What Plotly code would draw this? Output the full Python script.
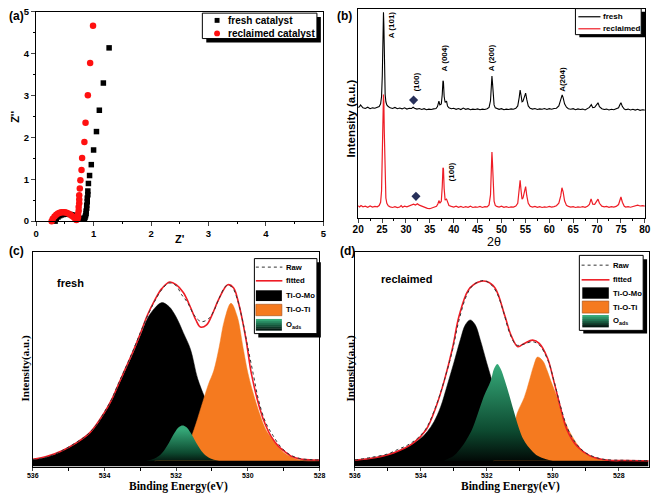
import plotly.graph_objects as go

W, H = 658, 499
def px(x): return x / W
def py(y): return 1 - y / H

# ---------------- (a) Nyquist data ----------------
fresh_zre = [0.33,0.35,0.38,0.41,0.44,0.47,0.50,0.53,0.56,0.59,0.62,0.65,0.68,0.71,0.74,0.77,0.80,0.82,0.84,0.85,
             0.86,0.87,0.87,0.88,0.88,0.89,0.89,0.90,0.90,0.91,0.93,0.96,1.00,1.05,1.10,1.17,1.27]
fresh_zim = [0.00,0.06,0.10,0.13,0.15,0.16,0.17,0.17,0.17,0.16,0.15,0.14,0.12,0.10,0.08,0.06,0.05,0.05,0.06,0.09,
             0.13,0.18,0.24,0.31,0.38,0.46,0.55,0.63,0.72,0.90,1.09,1.35,1.70,2.14,2.65,3.30,4.14]
recl_zre = [0.27,0.29,0.32,0.35,0.38,0.41,0.44,0.47,0.50,0.53,0.56,0.59,0.62,0.65,0.68,0.70,0.72,0.73,0.73,0.74,
            0.74,0.75,0.75,0.75,0.76,0.77,0.79,0.80,0.84,0.86,0.90,0.94,0.99]
recl_zim = [0.00,0.06,0.11,0.15,0.18,0.20,0.21,0.21,0.21,0.20,0.18,0.16,0.13,0.10,0.06,0.03,0.05,0.10,0.17,0.25,
            0.34,0.43,0.52,0.62,0.78,0.98,1.22,1.51,1.89,2.35,3.01,3.78,4.67]

# ---------------- (b) XRD data (2theta, intensity a.u.) ----------------
xrd_fresh = [(20.0,52.8),(20.3,53.2),(20.5,54.0),(20.7,53.3),(21.0,52.6),(21.5,52.3),(22.0,52.9),(22.5,52.2),
    (23.0,52.6),(23.5,52.4),(24.0,52.7),(24.4,53.2),(24.7,54.5),(24.9,58),(25.05,68),(25.15,82),(25.25,95),
    (25.3,98.3),(25.38,92),(25.46,78),(25.55,66),(25.65,59),(25.8,55.5),(26.0,54),(26.3,53.2),(26.7,52.6),
    (27.2,52.3),(27.7,52.8),(28.2,52.2),(28.7,52.5),(29.2,52.1),(29.7,52.6),(30.2,52.0),(30.7,52.4),(31.2,52.3),
    (31.5,52.9),(31.8,52.4),(32.3,52.0),(32.8,52.3),(33.3,51.8),(33.8,52.2),(34.3,51.7),(34.8,52.0),(35.3,51.8),
    (35.8,52.1),(36.3,52.3),(36.6,53.2),(36.9,55.8),(37.1,54.0),(37.4,54.5),(37.6,59),(37.75,65.5),(37.85,65.0),
    (38.0,58),(38.2,55.2),(38.5,55.8),(38.7,53.5),(39.0,52.6),(39.5,52.2),(40.0,52.4),(40.5,51.9),(41.0,52.3),
    (41.5,51.8),(42.0,52.5),(42.5,51.9),(43.0,52.2),(43.5,51.7),(44.0,52.0),(44.5,51.8),(45.0,52.1),(45.5,51.7),
    (46.0,52.0),(46.5,51.8),(47.0,52.2),(47.4,52.8),(47.7,56),(47.9,64),(48.0,67.8),(48.1,65),(48.25,58),
    (48.45,54),(48.7,52.6),(49.0,52.3),(49.5,51.9),(50.0,52.2),(50.5,51.7),(51.0,52.0),(51.5,51.8),(52.0,52.1),
    (52.5,51.9),(53.0,52.4),(53.4,53.5),(53.7,57.5),(53.9,61.1),(54.1,58.5),(54.3,55.5),(54.5,55.8),(54.8,58),
    (55.05,59.6),(55.3,56.5),(55.6,53.5),(56.0,52.4),(56.5,52.0),(57.0,52.3),(57.5,51.8),(58.0,52.1),(58.5,51.9),
    (59.0,52.3),(59.5,51.8),(60.0,52.2),(60.5,51.9),(61.0,52.3),(61.5,52.4),(62.0,53.5),(62.4,56),(62.7,58.8),
    (62.9,57.5),(63.2,54.5),(63.6,52.9),(64.0,52.2),(64.5,51.9),(65.0,52.2),(65.5,51.7),(66.0,52.1),(66.5,51.8),
    (67.0,52.0),(67.5,51.6),(68.0,52.2),(68.4,52.8),(68.8,54.1),(69.1,52.7),(69.5,52.9),(69.9,54.0),(70.2,55.0),
    (70.5,53.2),(71.0,52.2),(71.5,51.8),(72.0,52.0),(72.5,51.6),(73.0,51.9),(73.5,51.7),(74.0,52.0),(74.5,52.6),
    (74.8,54.2),(75.0,55.0),(75.3,53.2),(75.7,52.0),(76.0,51.7),(76.5,52.0),(77.0,51.6),(77.5,51.9),(78.0,51.5),
    (78.5,51.9),(79.0,51.4),(79.5,51.7),(80.0,51.5)]
xrd_recl = [(20.0,5.8),(20.3,5.2),(20.6,5.9),(21.0,5.3),(21.5,5.6),(22.0,5.1),(22.5,5.7),(23.0,5.2),(23.5,5.5),
    (24.0,5.3),(24.4,5.9),(24.7,7.5),(24.9,13),(25.05,28),(25.15,45),(25.25,56),(25.3,59),(25.38,55),(25.46,42),
    (25.55,27),(25.65,16),(25.8,9.5),(26.0,7),(26.3,5.8),(26.7,5.3),(27.2,5.0),(27.7,5.4),(28.2,4.9),(28.7,5.2),
    (29.0,5.9),(29.3,5.1),(29.7,5.6),(30.2,5.3),(30.7,5.8),(31.2,6.0),(31.6,6.6),(32.0,6.2),(32.4,6.8),(32.8,6.1),
    (33.2,5.7),(33.6,5.2),(34.0,4.8),(34.5,4.6),(35.0,4.4),(35.5,4.7),(36.0,5.0),(36.4,5.6),(36.7,6.8),(36.9,8.3),
    (37.1,7.0),(37.4,8.0),(37.6,15),(37.75,24.0),(37.85,23.5),(38.0,14),(38.2,8.5),(38.5,9.0),(38.7,7.2),(39.0,5.9),
    (39.5,5.5),(40.0,5.2),(40.5,5.6),(41.0,5.1),(41.5,5.5),(42.0,5.0),(42.5,5.4),(43.0,5.1),(43.5,5.6),(44.0,5.0),
    (44.5,5.3),(45.0,5.1),(45.5,5.5),(46.0,5.0),(46.5,5.4),(47.0,5.3),(47.4,6.2),(47.7,11),(47.9,25),(48.0,31.5),
    (48.1,27),(48.25,15),(48.45,8),(48.7,6),(49.0,5.5),(49.5,5.2),(50.0,5.6),(50.5,5.1),(51.0,5.4),(51.5,5.0),
    (52.0,5.3),(52.5,5.2),(53.0,5.7),(53.4,7.0),(53.7,13),(53.9,18),(54.1,13),(54.3,9),(54.5,9.5),(54.8,13),
    (55.05,15),(55.3,10.5),(55.6,7),(56.0,5.6),(56.5,5.2),(57.0,5.5),(57.5,5.1),(58.0,5.4),(58.5,5.0),(59.0,5.3),
    (59.5,5.1),(60.0,5.5),(60.5,5.2),(61.0,5.4),(61.5,5.8),(62.0,7.0),(62.4,10.5),(62.65,14.4),(62.9,12.5),
    (63.2,8.2),(63.6,6.0),(64.0,5.5),(64.5,5.2),(65.0,5.4),(65.5,5.0),(66.0,5.3),(66.5,5.1),(67.0,5.4),(67.5,5.1),
    (68.0,5.6),(68.4,6.5),(68.75,9.1),(69.1,6.6),(69.5,6.5),(69.9,8.0),(70.2,9.0),(70.5,7.0),(71.0,5.6),(71.5,5.3),
    (72.0,5.5),(72.5,5.1),(73.0,5.4),(73.5,5.2),(74.0,5.5),(74.5,6.4),(74.8,8.8),(75.0,10.0),(75.3,7.5),(75.7,5.6),
    (76.0,5.2),(76.5,5.4),(77.0,5.1),(77.5,5.5),(78.0,5.8),(78.5,6.1),(79.0,5.7),(79.5,5.9),(80.0,5.6)]
diamond_x = [31.6, 32.1]
diamond_y = [56.3, 10.3]
peak_labels = ["A (101)", "(100)", "A (004)", "A (200)", "A(204)", "(100)"]
peak_label_x = [27.0, 32.2, 38.1, 47.9, 62.8, 39.5]
peak_label_y = [92.3, 64.9, 76.5, 76.5, 66.3, 21.9]

# ---------------- (c) XPS O1s fresh ----------------
c_raw = [(536.0,7.2),(535.7,8.8),(535.4,12.5),(535.1,18),(534.8,24.5),(534.5,32),(534.2,44),(534.0,56),(533.8,69),
    (533.6,86),(533.4,102),(533.2,119),(533.0,137),(532.8,154),(532.6,169),(532.4,181),(532.2,187.7),(532.0,185),
    (531.85,176),(531.68,167.7),(531.5,155),(531.3,148.3),(531.1,151),(530.95,159),(530.8,172),(530.6,185),
    (530.45,184),(530.3,172),(530.15,150),(530.0,122),(529.85,95),(529.7,68),(529.5,45),(529.3,32),(529.1,21),
    (528.9,14),(528.7,10),(528.5,8),(528.2,7),(528.0,6.8)]
c_fit = [(536.0,7.5),(535.6,10.5),(535.2,16),(534.8,24),(534.4,35),(534.0,55.5),(533.8,68.5),(533.6,85),(533.4,101.5),
    (533.2,118),(533.0,136),(532.8,155),(532.6,170),(532.4,182),(532.18,188.7),(532.0,186),(531.8,178),(531.6,163),
    (531.45,150),(531.32,142.7),(531.15,145),(531.0,155),(530.8,172),(530.56,186),(530.4,183),(530.25,166),
    (530.05,130),(529.9,95),(529.67,60),(529.5,42),(529.35,31),(529.15,21),(528.99,16),(528.75,10),(528.53,7.7),
    (528.2,6.8),(528.0,6.6)]
c_timo = [(536.0,7.3),(535.8,8.3),(535.6,10.2),(535.4,12.5),(535.2,15.7),(535.0,19.4),(534.8,23.5),(534.6,28.6),
    (534.4,34.3),(534.2,43.2),(534.0,54.5),(533.8,67.4),(533.6,83.6),(533.4,99.8),(533.2,116),(533.0,133.7),
    (532.8,151.5),(532.6,162),(532.4,167.7),(532.2,163.7),(532.0,153),(531.8,137),(531.6,120),(531.4,90),
    (531.2,70.7),(531.0,54.5),(530.8,40.8),(530.6,30.3),(530.4,22),(530.2,17.3),(530.0,14),(529.8,11.7),
    (529.6,9.9),(529.4,8.6),(529.2,7.6),(529.0,7.0),(528.8,6.6),(528.6,6.4),(528.0,6.2)]
c_titi = [(532.6,6.0),(532.2,8.5),(531.9,13),(531.7,20),(531.5,38),(531.3,61),(531.1,84),(530.95,98),(530.8,122),
    (530.65,150),(530.47,167),(530.3,154),(530.13,121),(530.0,96),(529.85,75),(529.67,54),(529.5,38),(529.31,27.7),
    (529.15,20),(528.99,14.3),(528.8,10),(528.53,6.5),(528.0,6.0)]
c_oads = [(532.84,6.0),(532.6,8.2),(532.4,13.7),(532.2,24.5),(532.04,34.8),(531.92,40.4),(531.82,42),(531.72,40.4),
    (531.6,34.8),(531.44,24.5),(531.24,13.7),(531.04,8.2),(530.8,6.0)]

# ---------------- (d) XPS O1s reclaimed ----------------
d_raw = [(536.0,6.8),(535.5,9.5),(535.0,13),(534.7,17.5),(534.4,22),(534.1,29),(533.84,39),(533.54,62),(533.29,88),
    (533.04,119),(532.84,150),(532.6,176),(532.4,186),(532.1,190.3),(531.9,187),(531.7,178),(531.5,159),(531.3,136),
    (531.1,124.3),(530.9,125),(530.61,127.7),(530.4,124),(530.15,109),(529.95,86),(529.75,60),(529.55,39),
    (529.3,24),(529.0,14),(528.7,9.5),(528.4,7.2),(527.8,6.5),(527.1,6.2)]
d_fit = [(536.0,6.5),(535.4,9),(534.83,14),(534.23,24),(533.84,37.7),(533.54,61),(533.29,87.7),(533.04,121),
    (532.84,154),(532.55,181),(532.25,188.7),(532.0,189.3),(531.75,182.7),(531.45,154),(531.26,134),(531.06,122.7),
    (530.86,126),(530.61,129.3),(530.41,126),(530.16,111),(529.97,87.7),(529.77,61),(529.57,37.7),(529.27,21),
    (528.87,11),(528.38,6.7),(527.8,6.2),(527.1,6.0)]
d_timo = [(536.0,6.8),(535.6,7.8),(535.2,10.5),(534.8,14.5),(534.4,20),(534.0,29),(533.8,36),(533.6,46),(533.4,61),
    (533.2,83),(533.0,106),(532.8,130),(532.65,145),(532.5,150),(532.35,145),(532.2,130),(532.0,106),(531.8,83),
    (531.6,61),(531.4,46),(531.2,36),(531.0,29),(530.6,20),(530.2,14.5),(529.8,10.5),(529.4,7.8),(529.0,6.8),
    (528.0,6.2),(527.1,6.1)]
d_titi = [(531.8,6.0),(531.6,10),(531.4,20),(531.2,37),(531.08,54.3),(530.86,71),(530.71,87.7),(530.58,103),
    (530.46,112),(530.3,108),(530.18,99),(530.06,87.7),(529.87,71),(529.72,54.3),(529.52,37.7),(529.22,21),
    (529.05,15),(528.87,11),(528.6,8),(528.38,6.7),(528.0,6.0)]
d_oads = [(533.3,6.0),(533.0,11),(532.74,21),(532.6,28.5),(532.45,37.7),(532.27,54.3),(532.1,71),(531.88,87.7),
    (531.78,100),(531.68,105),(531.58,100),(531.45,87.7),(531.3,71),(531.16,54.3),(531.01,37.7),(530.9,28.5),
    (530.76,21),(530.6,15),(530.46,11),(530.2,7.5),(530.0,6.0)]

# ---------------- styling ----------------
SANS = "Liberation Sans"
SERIF = "Liberation Serif"
RED = "#ee1c25"
ORANGE = "#f57a1f"
GREEN_SCALE = [[0, "#000000"], [0.35, "#0d4a30"], [1, "#35a878"]]
GREEN_STRIPES = ["#35a878", "#2a8e64", "#1f7350", "#15573c", "#0c3a28", "#041a12"]

def xs(p): return [a for a, b in p]
def ys(p): return [b for a, b in p]

fig = go.Figure()

# (a)
fig.add_trace(go.Scatter(x=fresh_zre, y=fresh_zim, mode="markers", xaxis="x", yaxis="y", cliponaxis=False,
                         marker=dict(symbol="square", size=5.5, color="black")))
fig.add_trace(go.Scatter(x=recl_zre, y=recl_zim, mode="markers", xaxis="x", yaxis="y", cliponaxis=False,
                         marker=dict(symbol="circle", size=6.5, color="#ff1010")))
# (b)
fig.add_trace(go.Scatter(x=xs(xrd_recl), y=ys(xrd_recl), mode="lines", xaxis="x2", yaxis="y2",
                         line=dict(color=RED, width=1.2)))
fig.add_trace(go.Scatter(x=xs(xrd_fresh), y=ys(xrd_fresh), mode="lines", xaxis="x2", yaxis="y2",
                         line=dict(color="black", width=1.1)))
fig.add_trace(go.Scatter(x=diamond_x, y=diamond_y, mode="markers", xaxis="x2", yaxis="y2",
                         marker=dict(symbol="diamond", size=7, color="#27305a")))

def xps(xa, ya, timo, titi, oads, fit, raw):
    fig.add_trace(go.Scatter(x=xs(timo), y=ys(timo), mode="lines", xaxis=xa, yaxis=ya, fill="tozeroy",
                             fillcolor="black", line=dict(color="black", width=0.5, shape="spline")))
    fig.add_trace(go.Scatter(x=xs(titi), y=ys(titi), mode="lines", xaxis=xa, yaxis=ya, fill="toself",
                             fillcolor=ORANGE, line=dict(color=ORANGE, width=0.5, shape="spline")))
    fig.add_trace(go.Scatter(x=xs(oads), y=ys(oads), mode="lines", xaxis=xa, yaxis=ya, fill="toself",
                             fillgradient=dict(type="vertical", colorscale=GREEN_SCALE,
                                               start=min(ys(oads)), stop=max(ys(oads))),
                             line=dict(color="rgba(0,0,0,0)", width=0.5, shape="spline")))
    fig.add_trace(go.Scatter(x=xs(fit), y=ys(fit), mode="lines", xaxis=xa, yaxis=ya,
                             line=dict(color=RED, width=1.6, shape="spline")))
    fig.add_trace(go.Scatter(x=xs(raw), y=ys(raw), mode="lines", xaxis=xa, yaxis=ya,
                             line=dict(color="#333333", width=1, dash="dot", shape="spline")))

xps("x3", "y3", c_timo, c_titi, c_oads, c_fit, c_raw)
xps("x4", "y4", d_timo, d_titi, d_oads, d_fit, d_raw)

ax_common = dict(showline=True, linecolor="black", linewidth=1.2, mirror=True, showgrid=False, zeroline=False)

fig.update_layout(
    width=W, height=H, margin=dict(l=0, r=0, t=0, b=0), showlegend=False,
    paper_bgcolor="white", plot_bgcolor="white",
    xaxis=dict(domain=[px(30.7), px(323.3)], range=[0, 5], anchor="y", dtick=1, ticks="outside", ticklen=4,
               ticklabelstandoff=-1,
               minor=dict(dtick=0.5, ticks="outside", ticklen=2, tickcolor="black"),
               tickfont=dict(family=SANS, size=9.5, weight="bold", color="black"), **ax_common),
    yaxis=dict(domain=[py(220), py(6)], range=[0, 5], anchor="x", dtick=1, ticks="outside", ticklen=4,
               minor=dict(dtick=0.5, ticks="outside", ticklen=2, tickcolor="black"),
               tickfont=dict(family=SANS, size=9.5, weight="bold", color="black"), **ax_common),
    xaxis2=dict(domain=[px(358.7), px(650.7)], range=[20, 80], anchor="y2", dtick=5, ticks="outside", ticklen=4,
                ticklabelstandoff=-2,
                minor=dict(dtick=2.5, ticks="outside", ticklen=2, tickcolor="black"),
                tickfont=dict(family=SANS, size=10, weight="bold", color="black"), **ax_common),
    yaxis2=dict(domain=[py(216.7), py(2.7)], range=[0, 100], anchor="x2", showticklabels=False, ticks="",
                **ax_common),
    xaxis3=dict(domain=[px(27.3), px(319.3)], range=[536, 528], anchor="y3", tick0=528, dtick=2,
                ticks="outside", ticklen=3.5, ticklabelstandoff=-2,
                minor=dict(dtick=1, ticks="outside", ticklen=3.5, tickcolor="black"),
                tickfont=dict(family=SANS, size=7, weight="bold", color="black"), **ax_common),
    yaxis3=dict(domain=[py(471), py(252)], range=[0, 219], anchor="x3", showticklabels=False, ticks="",
                **ax_common),
    xaxis4=dict(domain=[px(355.3), px(654.7)], range=[536, 527.09], anchor="y4", tick0=528, dtick=2,
                ticks="outside", ticklen=3.5, ticklabelstandoff=-2,
                minor=dict(dtick=1, ticks="outside", ticklen=3.5, tickcolor="black"),
                tickfont=dict(family=SANS, size=7, weight="bold", color="black"), **ax_common),
    yaxis4=dict(domain=[py(471), py(252)], range=[0, 219], anchor="x4", showticklabels=False, ticks="",
                **ax_common),
)

shapes = []
ann = []

def prect(x0, y0, x1, y1, fill, lw=0, lc="black"):
    shapes.append(dict(type="rect", xref="paper", yref="paper", x0=px(x0), x1=px(x1), y0=py(y1), y1=py(y0),
                       fillcolor=fill, line=dict(width=lw, color=lc), layer="above"))

def pline(x0, y, x1, color, width, dash="solid"):
    shapes.append(dict(type="line", xref="paper", yref="paper", x0=px(x0), x1=px(x1), y0=py(y), y1=py(y),
                       line=dict(color=color, width=width, dash=dash), layer="above"))

def ptext(x, y, text, size, family=SANS, bold=True, xanchor="left", angle=0, color="black"):
    ann.append(dict(xref="paper", yref="paper", x=px(x), y=py(y), text=text, showarrow=False, xanchor=xanchor,
                    yanchor="middle", textangle=angle,
                    font=dict(family=family, size=size, color=color, weight="bold" if bold else "normal")))

def grad_rect(x0, y0, x1, y1):
    n = len(GREEN_STRIPES)
    h = (y1 - y0) / n
    for i, c in enumerate(GREEN_STRIPES):
        prect(x0, y0 + i * h, x1, y0 + (i + 1) * h + 0.3, c)

# legend (a)
prect(204, 11.3, 320.7, 37.3, "black")
prect(200, 7.3, 316.7, 33.3, "white", 1)
prect(212.5, 12.2, 217.5, 17.2, "black")
shapes.append(dict(type="circle", xref="paper", yref="paper", x0=px(212), x1=px(218), y0=py(31), y1=py(25),
                   fillcolor="#ff1010", line=dict(width=0), layer="above"))
ptext(224, 14.7, "fresh catalyst", 10)
ptext(224, 28, "reclaimed catalyst", 10)

# legend (b)
prect(584, 6, 651.7, 32, "black")
prect(580, 2.7, 647, 29.3, "white", 1)
pline(583, 11, 605.5, "black", 1.2)
pline(583, 23.3, 605.5, RED, 1.2)
ptext(606.5, 11, "fresh", 8)
ptext(606.5, 23.3, "reclaimed", 8)

# legend (c)
prect(257, 262, 320.7, 339, "black")
prect(253, 258.3, 316.7, 335, "white", 1)
pline(254.5, 267, 281.5, "#333333", 1, "dot")
pline(254.5, 281, 281.5, RED, 1.6)
prect(254.5, 290.7, 281, 301.7, "black")
prect(254.5, 305, 281, 316.7, ORANGE, 0.6, "#a04a10")
grad_rect(254.5, 320, 281, 331.7)
ptext(283, 267, "Raw", 7.7)
ptext(283, 281, "fitted", 7.7)
ptext(283, 296.2, "Ti-O-Mo", 7.7)
ptext(283, 310.8, "Ti-O-Ti", 7.7)
ptext(283, 326, "O<sub>ads</sub>", 7.7)

# legend (d)
prect(588, 259, 653, 335, "black")
prect(584, 255, 649, 331.7, "white", 1)
pline(586.3, 265, 614.7, "#333333", 1, "dot")
pline(586.3, 280, 614.7, RED, 1.6)
prect(587, 287.7, 614, 299.3, "black")
prect(587, 301.7, 614, 314, ORANGE, 0.6, "#a04a10")
grad_rect(587, 316, 614, 328.3)
ptext(616, 265, "Raw", 7.7)
ptext(616, 280, "fitted", 7.7)
ptext(616, 293.5, "Ti-O-Mo", 7.7)
ptext(616, 307.8, "Ti-O-Ti", 7.7)
ptext(616, 322, "O<sub>ads</sub>", 7.7)

# panel labels and axis titles
ptext(1.5, 10, "(a)", 12)
ptext(335, 10, "(b)", 12)
ptext(1.5, 251, "(c)", 12)
ptext(338, 251, "(d)", 12)
ptext(177, 238, "Z'", 11, xanchor="center")
ptext(8.5, 113, "Z''", 11, xanchor="center", angle=-90)
ptext(497, 241, "2θ", 12.5, bold=False, xanchor="center")
ptext(351.5, 115, "Intensity (a.u.)", 11.5, xanchor="center", angle=-90)
ptext(175.5, 491, "Binding Energy(eV)", 11.5, family=SERIF, xanchor="center")
ptext(513.5, 491, "Binding Energy(eV)", 11.5, family=SERIF, xanchor="center")
ptext(20, 371, "Intensity(a.u.)", 11, family=SERIF, xanchor="center", angle=-90)
ptext(351, 371, "Intensity(a.u.)", 11, family=SERIF, xanchor="center", angle=-90)
ptext(50, 283.3, "fresh", 11)
ptext(380, 279.3, "reclaimed", 11)

# XRD peak labels (data coordinates)
for t, x, y in zip(peak_labels, peak_label_x, peak_label_y):
    ann.append(dict(xref="x2", yref="y2", x=x, y=y, text=t, showarrow=False, textangle=-90,
                    font=dict(family=SANS, size=8, color="black", weight="bold")))

fig.update_layout(shapes=shapes, annotations=ann)
fig.write_html("out.html", config={"displayModeBar": False},
               post_script="document.body.style.margin='0px';document.body.style.overflow='hidden';")
